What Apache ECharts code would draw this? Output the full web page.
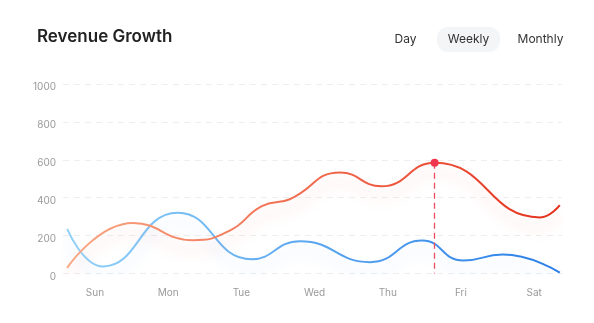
<!DOCTYPE html>
<html>
<head>
<meta charset="utf-8">
<script src="https://cdn.jsdelivr.net/npm/echarts@6/dist/echarts.min.js"></script>
<style>
html,body{margin:0;padding:0;background:#fff;}
#chart{width:594px;height:323px;}
</style>
</head>
<body>
<div id="chart"></div>
<script>
// ---- data ----
var title = 'Revenue Growth';
var periodButtons = ['Day', 'Weekly', 'Monthly'];
var activeButton = 'Weekly';
var dayLabels = ['Sun', 'Mon', 'Tue', 'Wed', 'Thu', 'Fri', 'Sat'];
var dayPositions = [0, 1, 2, 3, 4, 5, 6];
var yTicks = [0, 200, 400, 600, 800, 1000];

// x in day units (Sun = 0)
var orangeX = [-0.38, 0.52, 1.34, 1.84, 2.28, 2.66, 3.35, 3.91, 4.64, 6.08, 6.35];
var orangeY = [30, 267, 176, 226, 355, 392, 533, 460, 584, 296, 361];
var blueX = [-0.38, 0.11, 1.13, 2.14, 2.80, 3.76, 4.47, 5.03, 5.57, 6.35];
var blueY = [235, 37, 321, 75, 170, 60, 174, 68, 100, 5];
var highlightIndex = 8;

function pairs(xs, ys) { return xs.map(function (x, i) { return [x, ys[i]]; }); }

var chart = echarts.init(document.getElementById('chart'), null, {renderer: 'canvas'});
var hx = orangeX[highlightIndex], hy = orangeY[highlightIndex];
var FONT = 'Inter, "Noto Sans", sans-serif';

var option = {
  animation: false,
  backgroundColor: '#ffffff',
  grid: {left: 63, right: 32, top: 84, bottom: 49.5},
  graphic: [
    {type: 'text', left: 37, top: 28, style: {text: title, fill: '#222222', font: '600 17px ' + FONT}},
    {type: 'rect', shape: {x: 437, y: 27, width: 63, height: 25, r: 11}, style: {fill: '#f3f5f7'}},
    {type: 'text', x: 405.5, y: 39.5, style: {text: periodButtons[0], fill: '#333', font: '12px ' + FONT, align: 'center', verticalAlign: 'middle'}},
    {type: 'text', x: 468.5, y: 39.5, style: {text: periodButtons[1], fill: '#333', font: '12px ' + FONT, align: 'center', verticalAlign: 'middle'}},
    {type: 'text', x: 540.5, y: 39.5, style: {text: periodButtons[2], fill: '#333', font: '12px ' + FONT, align: 'center', verticalAlign: 'middle'}}
  ],
  xAxis: {
    type: 'value',
    min: -0.437,
    max: 6.38,
    axisLine: {show: false},
    axisTick: {show: false},
    splitLine: {show: false},
    axisLabel: {
      customValues: dayPositions,
      formatter: function (v) { return dayLabels[Math.round(v)] || ''; },
      color: '#9a9a9a',
      fontSize: 10,
      margin: 14,
      fontFamily: FONT
    }
  },
  yAxis: {
    type: 'value',
    min: yTicks[0],
    max: yTicks[yTicks.length - 1],
    interval: 200,
    axisLine: {show: false},
    axisTick: {show: false},
    axisLabel: {
      color: '#9a9a9a', fontSize: 10, margin: 7, fontFamily: FONT,
      verticalAlign: 'top', lineHeight: 6,
      formatter: function (v) { return String(v); }
    },
    splitLine: {lineStyle: {color: '#eeeeee', type: [6, 5], width: 1}}
  },
  series: [
    {
      type: 'line',
      data: pairs(blueX, blueY),
      smooth: 0.5,
      showSymbol: false,
      lineStyle: {
        width: 2,
        color: new echarts.graphic.LinearGradient(0, 0, 1, 0, [
          {offset: 0, color: '#92d2f8'},
          {offset: 0.5, color: '#5aa6ef'},
          {offset: 1, color: '#2a7ee8'}
        ]),
        shadowColor: 'rgba(80,150,240,0.25)',
        shadowBlur: 14,
        shadowOffsetY: 10
      },
      z: 2
    },
    {
      type: 'line',
      data: pairs(orangeX, orangeY),
      smooth: 0.5,
      showSymbol: false,
      lineStyle: {
        width: 2,
        color: new echarts.graphic.LinearGradient(0, 0, 1, 0, [
          {offset: 0, color: '#f9a884'},
          {offset: 0.5, color: '#f06a4e'},
          {offset: 1, color: '#e4301c'}
        ]),
        shadowColor: 'rgba(240,90,70,0.28)',
        shadowBlur: 14,
        shadowOffsetY: 10
      },
      markLine: {
        silent: true,
        symbol: ['none', 'none'],
        label: {show: false},
        lineStyle: {color: '#ee4c60', type: [6, 4], width: 1.3},
        data: [[{coord: [hx, hy]}, {coord: [hx, 0]}]]
      },
      markPoint: {
        silent: true,
        symbol: 'circle',
        symbolSize: 8,
        label: {show: false},
        itemStyle: {color: '#f0364f'},
        data: [{coord: [hx, hy]}]
      },
      z: 3
    }
  ]
};
chart.setOption(option);
</script>
</body>
</html>
